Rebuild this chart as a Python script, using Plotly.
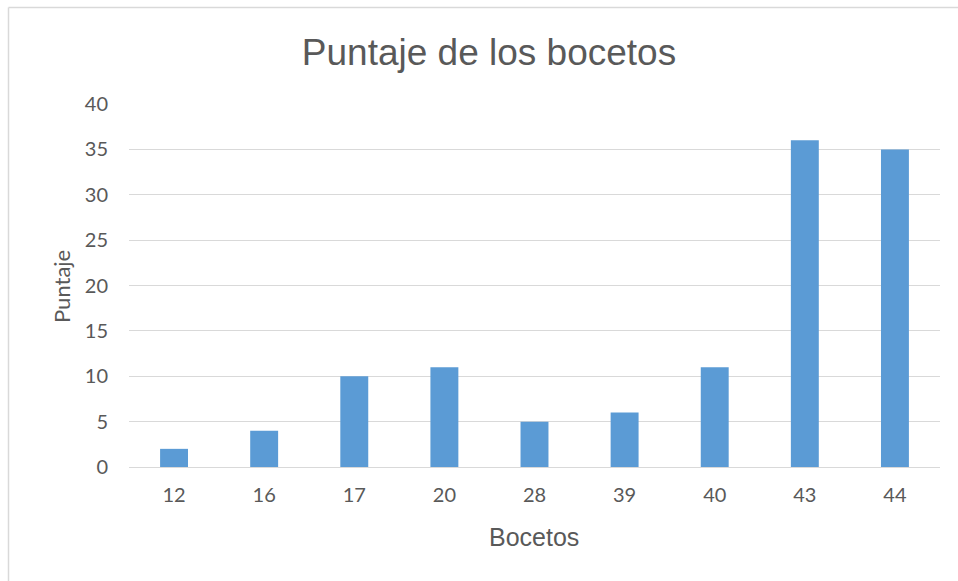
import plotly.graph_objects as go

# Sketch scores
bocetos = ["12", "16", "17", "20", "28", "39", "40", "43", "44"]
puntaje = [2, 4, 10, 11, 5, 6, 11, 36, 35]

W, H = 958, 581
ML, MR, MT, MB = 129, 18, 104, 114
pw, ph = W - ML - MR, H - MT - MB

def px_x(p):
    return (p - ML) / pw

def px_y(p):
    return (H - MB - p) / ph

TICK_FONT = "Lato, 'Open Sans', sans-serif"
HEAD_FONT = "'Liberation Sans', Arial, sans-serif"
TXT = "#595959"

fig = go.Figure(go.Bar(
    x=bocetos, y=puntaje,
    marker=dict(color="#5b9bd5", line=dict(width=0)),
))

fig.update_layout(
    width=W, height=H,
    margin=dict(l=ML, r=MR, t=MT, b=MB),
    paper_bgcolor="white", plot_bgcolor="white",
    bargap=0.69,
    showlegend=False,
    font=dict(family=TICK_FONT, color=TXT, size=20),
    title=dict(text="Puntaje de los bocetos", xref="container", x=489 / W, xanchor="center",
               yref="container", y=1 - 52 / H, yanchor="middle",
               font=dict(size=37, color=TXT, family=HEAD_FONT)),
    xaxis=dict(type="category", showgrid=False, showline=False, ticks="",
               ticklabelstandoff=14,
               tickfont=dict(size=20, color=TXT, family=TICK_FONT)),
    yaxis=dict(range=[0, 40], dtick=5, showgrid=True, gridcolor="#d9d9d9", gridwidth=1,
               zeroline=True, zerolinecolor="#d9d9d9", zerolinewidth=1,
               showline=False, ticks="", ticklabelstandoff=20,
               tickfont=dict(size=20, color=TXT, family=TICK_FONT)),
    annotations=[
        dict(text="Bocetos", xref="paper", yref="paper", x=px_x(534), y=px_y(537),
             xanchor="center", yanchor="middle", showarrow=False,
             font=dict(size=25, color=TXT, family=HEAD_FONT)),
        dict(text="Puntaje", xref="paper", yref="paper", x=px_x(61), y=px_y(287),
             xanchor="center", yanchor="middle", showarrow=False, textangle=-90,
             font=dict(size=22, color=TXT, family=TICK_FONT)),
    ],
    shapes=[
        dict(type="line", xref="paper", yref="paper",
             x0=px_x(8.5), x1=px_x(W + 5), y0=px_y(7.5), y1=px_y(7.5),
             line=dict(color="#d9d9d9", width=1.5)),
        dict(type="line", xref="paper", yref="paper",
             x0=px_x(8.5), x1=px_x(8.5), y0=px_y(7.5), y1=px_y(H + 5),
             line=dict(color="#d9d9d9", width=1.5)),
    ],
)

fig.write_html("out.html")
